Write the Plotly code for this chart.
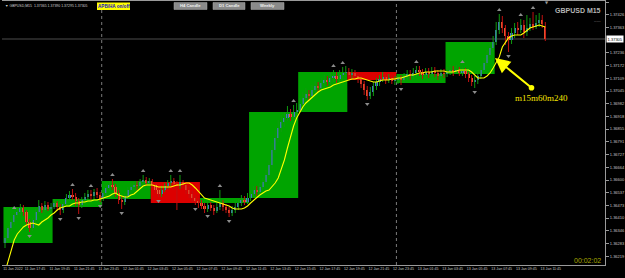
import plotly.graph_objects as go

# ---------------- data (GBPUSD M15, 177 bars) ----------------
open_ = [1.36285, 1.36310, 1.36360, 1.36390, 1.36425, 1.36440, 1.36460, 1.36440, 1.36390, 1.36360,
         1.36400, 1.36440, 1.36470, 1.36450, 1.36475, 1.36455, 1.36465, 1.36485, 1.36465, 1.36450,
         1.36480, 1.36510, 1.36525, 1.36515, 1.36495, 1.36475, 1.36500, 1.36515, 1.36530, 1.36520,
         1.36540, 1.36525, 1.36505, 1.36535, 1.36560, 1.36575, 1.36565, 1.36535, 1.36500, 1.36490,
         1.36520, 1.36550, 1.36565, 1.36575, 1.36570, 1.36590, 1.36600, 1.36585, 1.36595, 1.36575,
         1.36550, 1.36530, 1.36550, 1.36570, 1.36585, 1.36595, 1.36580, 1.36570, 1.36590, 1.36575,
         1.36550, 1.36530, 1.36510, 1.36495, 1.36485, 1.36470, 1.36455, 1.36475, 1.36460, 1.36445,
         1.36465, 1.36485, 1.36465, 1.36450, 1.36435, 1.36450, 1.36465, 1.36485, 1.36500, 1.36490,
         1.36510, 1.36530, 1.36550, 1.36540, 1.36565, 1.36590, 1.36625, 1.36675, 1.36750, 1.36810,
         1.36860, 1.36890, 1.36910, 1.36930, 1.36915, 1.36940, 1.36950, 1.36980, 1.37010, 1.37030,
         1.37020, 1.37050, 1.37070, 1.37060, 1.37085, 1.37100, 1.37090, 1.37110, 1.37120, 1.37105,
         1.37125, 1.37135, 1.37140, 1.37125, 1.37135, 1.37120, 1.37105, 1.37080, 1.37050, 1.37020,
         1.37040, 1.37070, 1.37090, 1.37105, 1.37115, 1.37100, 1.37110, 1.37095, 1.37100, 1.37110,
         1.37100, 1.37115, 1.37130, 1.37120, 1.37135, 1.37150, 1.37140, 1.37125, 1.37140, 1.37130,
         1.37145, 1.37135, 1.37120, 1.37135, 1.37130, 1.37140, 1.37150, 1.37140, 1.37150, 1.37135,
         1.37145, 1.37130, 1.37110, 1.37090, 1.37100, 1.37120, 1.37150, 1.37185, 1.37225, 1.37260,
         1.37290, 1.37350, 1.37390, 1.37360, 1.37320, 1.37300, 1.37335, 1.37360, 1.37350, 1.37375,
         1.37340, 1.37360, 1.37380, 1.37365, 1.37385, 1.37400, 1.37365]

high_ = [1.36320, 1.36370, 1.36405, 1.36440, 1.36465, 1.36480, 1.36475, 1.36450, 1.36405, 1.36410,
         1.36455, 1.36500, 1.36485, 1.36495, 1.36490, 1.36485, 1.36505, 1.36495, 1.36480, 1.36490,
         1.36530, 1.36545, 1.36555, 1.36535, 1.36510, 1.36515, 1.36535, 1.36550, 1.36550, 1.36555,
         1.36560, 1.36540, 1.36550, 1.36575, 1.36595, 1.36605, 1.36580, 1.36550, 1.36520, 1.36535,
         1.36565, 1.36585, 1.36590, 1.36595, 1.36605, 1.36625, 1.36615, 1.36610, 1.36605, 1.36585,
         1.36565, 1.36570, 1.36585, 1.36600, 1.36625, 1.36610, 1.36595, 1.36625, 1.36600, 1.36585,
         1.36570, 1.36545, 1.36525, 1.36510, 1.36500, 1.36485, 1.36495, 1.36490, 1.36475, 1.36485,
         1.36550, 1.36500, 1.36480, 1.36465, 1.36470, 1.36485, 1.36505, 1.36525, 1.36520, 1.36535,
         1.36550, 1.36570, 1.36570, 1.36585, 1.36610, 1.36650, 1.36700, 1.36785, 1.36850, 1.36900,
         1.36925, 1.36940, 1.36970, 1.36955, 1.36975, 1.36985, 1.37010, 1.37040, 1.37060, 1.37050,
         1.37075, 1.37095, 1.37090, 1.37110, 1.37125, 1.37120, 1.37135, 1.37150, 1.37140, 1.37150,
         1.37165, 1.37170, 1.37160, 1.37155, 1.37150, 1.37135, 1.37120, 1.37095, 1.37070, 1.37065,
         1.37090, 1.37110, 1.37125, 1.37140, 1.37130, 1.37130, 1.37125, 1.37120, 1.37130, 1.37125,
         1.37135, 1.37150, 1.37150, 1.37160, 1.37170, 1.37170, 1.37155, 1.37160, 1.37160, 1.37165,
         1.37165, 1.37150, 1.37155, 1.37155, 1.37165, 1.37175, 1.37170, 1.37175, 1.37165, 1.37170,
         1.37160, 1.37140, 1.37125, 1.37120, 1.37140, 1.37170, 1.37210, 1.37250, 1.37290, 1.37320,
         1.37390, 1.37430, 1.37420, 1.37375, 1.37340, 1.37360, 1.37385, 1.37390, 1.37405, 1.37400,
         1.37425, 1.37410, 1.37440, 1.37425, 1.37435, 1.37425, 1.37390]

low_ = [1.36260, 1.36300, 1.36345, 1.36375, 1.36410, 1.36425, 1.36420, 1.36370, 1.36340, 1.36345,
        1.36385, 1.36430, 1.36435, 1.36440, 1.36445, 1.36440, 1.36455, 1.36445, 1.36425, 1.36435,
        1.36470, 1.36495, 1.36500, 1.36470, 1.36430, 1.36460, 1.36485, 1.36505, 1.36500, 1.36505,
        1.36510, 1.36490, 1.36495, 1.36520, 1.36545, 1.36550, 1.36515, 1.36480, 1.36455, 1.36475,
        1.36505, 1.36535, 1.36545, 1.36550, 1.36560, 1.36575, 1.36570, 1.36570, 1.36555, 1.36535,
        1.36515, 1.36515, 1.36540, 1.36555, 1.36570, 1.36550, 1.36450, 1.36555, 1.36560, 1.36530,
        1.36510, 1.36490, 1.36475, 1.36460, 1.36455, 1.36435, 1.36440, 1.36445, 1.36425, 1.36435,
        1.36450, 1.36445, 1.36435, 1.36415, 1.36420, 1.36435, 1.36450, 1.36470, 1.36475, 1.36480,
        1.36495, 1.36515, 1.36520, 1.36530, 1.36550, 1.36580, 1.36615, 1.36660, 1.36735, 1.36790,
        1.36840, 1.36865, 1.36895, 1.36895, 1.36900, 1.36920, 1.36935, 1.36960, 1.36995, 1.37000,
        1.37005, 1.37035, 1.37040, 1.37045, 1.37065, 1.37070, 1.37075, 1.37090, 1.37085, 1.37090,
        1.37105, 1.37115, 1.37110, 1.37105, 1.37100, 1.37085, 1.37060, 1.37025, 1.37000, 1.37005,
        1.37020, 1.37050, 1.37070, 1.37090, 1.37080, 1.37085, 1.37080, 1.37075, 1.37080, 1.37075,
        1.37085, 1.37100, 1.37100, 1.37105, 1.37115, 1.37120, 1.37105, 1.37110, 1.37110, 1.37115,
        1.37115, 1.37100, 1.37105, 1.37110, 1.37115, 1.37125, 1.37120, 1.37130, 1.37120, 1.37120,
        1.37110, 1.37090, 1.37070, 1.37060, 1.37080, 1.37105, 1.37140, 1.37170, 1.37210, 1.37240,
        1.37275, 1.37330, 1.37335, 1.37275, 1.37240, 1.37280, 1.37310, 1.37325, 1.37335, 1.37310,
        1.37320, 1.37345, 1.37350, 1.37355, 1.37365, 1.37360, 1.37295]

close_ = [1.36310, 1.36360, 1.36390, 1.36425, 1.36440, 1.36460, 1.36440, 1.36390, 1.36360, 1.36400,
          1.36440, 1.36470, 1.36450, 1.36475, 1.36455, 1.36465, 1.36485, 1.36465, 1.36450, 1.36480,
          1.36510, 1.36525, 1.36515, 1.36495, 1.36475, 1.36500, 1.36515, 1.36530, 1.36520, 1.36540,
          1.36525, 1.36505, 1.36535, 1.36560, 1.36575, 1.36565, 1.36535, 1.36500, 1.36490, 1.36520,
          1.36550, 1.36565, 1.36575, 1.36570, 1.36590, 1.36600, 1.36585, 1.36595, 1.36575, 1.36550,
          1.36530, 1.36550, 1.36570, 1.36585, 1.36595, 1.36580, 1.36570, 1.36590, 1.36575, 1.36550,
          1.36530, 1.36510, 1.36495, 1.36485, 1.36470, 1.36455, 1.36475, 1.36460, 1.36445, 1.36465,
          1.36485, 1.36465, 1.36450, 1.36435, 1.36450, 1.36465, 1.36485, 1.36500, 1.36490, 1.36510,
          1.36530, 1.36550, 1.36540, 1.36565, 1.36590, 1.36625, 1.36675, 1.36750, 1.36810, 1.36860,
          1.36890, 1.36910, 1.36930, 1.36915, 1.36940, 1.36950, 1.36980, 1.37010, 1.37030, 1.37020,
          1.37050, 1.37070, 1.37060, 1.37085, 1.37100, 1.37090, 1.37110, 1.37120, 1.37105, 1.37125,
          1.37135, 1.37140, 1.37125, 1.37135, 1.37120, 1.37105, 1.37080, 1.37050, 1.37020, 1.37040,
          1.37070, 1.37090, 1.37105, 1.37115, 1.37100, 1.37110, 1.37095, 1.37100, 1.37110, 1.37100,
          1.37115, 1.37130, 1.37120, 1.37135, 1.37150, 1.37140, 1.37125, 1.37140, 1.37130, 1.37145,
          1.37135, 1.37120, 1.37135, 1.37130, 1.37140, 1.37150, 1.37140, 1.37150, 1.37135, 1.37145,
          1.37130, 1.37110, 1.37090, 1.37100, 1.37120, 1.37150, 1.37185, 1.37225, 1.37260, 1.37290,
          1.37350, 1.37390, 1.37360, 1.37320, 1.37300, 1.37335, 1.37360, 1.37350, 1.37375, 1.37340,
          1.37360, 1.37380, 1.37365, 1.37385, 1.37400, 1.37380, 1.37305]

ma_ = [1.36140, 1.36190, 1.36250, 1.36300, 1.36330, 1.36350, 1.36365, 1.36375, 1.36380, 1.36385,
       1.36380, 1.36375, 1.36390, 1.36400, 1.36410, 1.36425, 1.36435, 1.36450, 1.36460, 1.36465,
       1.36470, 1.36470, 1.36480, 1.36485, 1.36485, 1.36490, 1.36490, 1.36495, 1.36495, 1.36500,
       1.36500, 1.36505, 1.36510, 1.36515, 1.36520, 1.36530, 1.36535, 1.36525, 1.36520, 1.36515,
       1.36515, 1.36525, 1.36530, 1.36545, 1.36560, 1.36570, 1.36575, 1.36575, 1.36575, 1.36570,
       1.36565, 1.36565, 1.36565, 1.36565, 1.36565, 1.36570, 1.36575, 1.36575, 1.36580, 1.36585,
       1.36585, 1.36575, 1.36560, 1.36545, 1.36525, 1.36510, 1.36505, 1.36500, 1.36495, 1.36490,
       1.36485, 1.36480, 1.36475, 1.36470, 1.36460, 1.36455, 1.36455, 1.36455, 1.36460, 1.36470,
       1.36485, 1.36500, 1.36510, 1.36525, 1.36535, 1.36545, 1.36550, 1.36565, 1.36585, 1.36610,
       1.36650, 1.36700, 1.36760, 1.36820, 1.36870, 1.36910, 1.36940, 1.36965, 1.36985, 1.37000,
       1.37015, 1.37030, 1.37040, 1.37050, 1.37055, 1.37060, 1.37065, 1.37075, 1.37080, 1.37085,
       1.37090, 1.37095, 1.37100, 1.37105, 1.37105, 1.37110, 1.37110, 1.37105, 1.37100, 1.37095,
       1.37090, 1.37090, 1.37095, 1.37100, 1.37100, 1.37100, 1.37105, 1.37105, 1.37110, 1.37110,
       1.37115, 1.37120, 1.37125, 1.37125, 1.37130, 1.37135, 1.37135, 1.37140, 1.37140, 1.37140,
       1.37145, 1.37145, 1.37145, 1.37145, 1.37140, 1.37140, 1.37140, 1.37145, 1.37150, 1.37150,
       1.37150, 1.37150, 1.37140, 1.37125, 1.37110, 1.37110, 1.37110, 1.37120, 1.37135, 1.37160,
       1.37185, 1.37215, 1.37265, 1.37290, 1.37310, 1.37320, 1.37325, 1.37325, 1.37325, 1.37335,
       1.37350, 1.37360, 1.37365, 1.37370, 1.37375, 1.37370, 1.37365]

# H4 candle boxes (16 M15 bars each)
h4_open = [1.36285, 1.36465, 1.36505, 1.36590, 1.36485, 1.36510, 1.36940, 1.37140, 1.37085, 1.37130]
h4_close = [1.36465, 1.36505, 1.36595, 1.36485, 1.36510, 1.36940, 1.37140, 1.37100, 1.37130, 1.37290]

# fractal marks
frac_up_bar = [3, 22, 28, 35, 45, 54, 57, 70, 94, 107, 110, 134, 149, 161, 168, 172]
frac_up_val = [1.36460, 1.36575, 1.36570, 1.36625, 1.36645, 1.36645, 1.36645, 1.36570, 1.36995,
               1.37170, 1.37185, 1.37190, 1.37190, 1.37450, 1.37425, 1.37460]
frac_dn_bar = [8, 18, 24, 31, 38, 50, 62, 66, 73, 118, 129, 153, 164]
frac_dn_val = [1.36320, 1.36405, 1.36410, 1.36470, 1.36435, 1.36495, 1.36455, 1.36420, 1.36395,
               1.36980, 1.37055, 1.37040, 1.37220]

# time axis labels
time_label_bars = [0, 7, 15, 23, 31, 39, 47, 55, 63, 71, 79, 87, 95, 103, 111, 119, 127, 135,
                   143, 151, 159, 167, 175]
time_labels = ["11 Jan 2022", "11 Jan 17:45", "11 Jan 19:45", "11 Jan 21:45", "11 Jan 23:45",
               "12 Jan 01:45", "12 Jan 03:45", "12 Jan 05:45", "12 Jan 07:45", "12 Jan 09:45",
               "12 Jan 11:45", "12 Jan 13:45", "12 Jan 15:45", "12 Jan 17:45", "12 Jan 19:45",
               "12 Jan 21:45", "12 Jan 23:45", "13 Jan 01:45", "13 Jan 03:45", "13 Jan 05:45",
               "13 Jan 07:45", "13 Jan 09:45", "13 Jan 11:45"]

# price axis labels (the one under the current-price tag is covered by it)
price_ticks = [1.37490, 1.37426, 1.37363, 1.37236, 1.37172, 1.37109, 1.37045, 1.36982,
               1.36918, 1.36855, 1.36791, 1.36727, 1.36664, 1.36600, 1.36537, 1.36473, 1.36410,
               1.36346, 1.36283, 1.36219]
price_tick_labels = ["%.5f" % v for v in price_ticks]

day_separators = [31.5, 127.5]

# ---------------- figure ----------------
PL, PR, PT, PB = 2, 605, 1, 265  # plot area in pixels


def px(x):
    return (x - PL) / (PR - PL)


def py(y):
    return (PB - y) / (PB - PT)


n = len(close_)
idx = list(range(n))
is_up = [c >= o for o, c in zip(open_, close_)]

UP_BODY = "#4874d4"
DN_BODY = "#ea5f34"
UP_WICK = "#0f9a0f"
DN_WICK = "#c01010"
BOX_GREEN = "#00a400"
BOX_RED = "#dc0000"

fig = go.Figure()

for flag, col in ((True, UP_WICK), (False, DN_WICK)):
    xs, ys = [], []
    for i in idx:
        if is_up[i] == flag:
            xs += [i, i, None]
            ys += [low_[i], high_[i], None]
    fig.add_trace(go.Scatter(x=xs, y=ys, mode="lines", line=dict(color=col, width=1),
                             hoverinfo="skip"))

fig.add_trace(go.Bar(
    x=idx,
    y=[abs(c - o) for o, c in zip(open_, close_)],
    base=[min(o, c) for o, c in zip(open_, close_)],
    width=0.7,
    marker=dict(color=[UP_BODY if u else DN_BODY for u in is_up], line=dict(width=0)),
    hoverinfo="skip"))

fig.add_trace(go.Scatter(x=idx, y=ma_, mode="lines", line=dict(color="#ffff00", width=1.1),
                         hoverinfo="skip"))

fig.add_trace(go.Scatter(x=frac_up_bar, y=frac_up_val, mode="markers",
                         marker=dict(symbol="triangle-up", size=4, color="#8c8c8c"),
                         hoverinfo="skip"))
fig.add_trace(go.Scatter(x=frac_dn_bar, y=frac_dn_val, mode="markers",
                         marker=dict(symbol="triangle-down", size=4, color="#8c8c8c"),
                         hoverinfo="skip"))

shapes = []
for k, (o, c) in enumerate(zip(h4_open, h4_close)):
    shapes.append(dict(type="rect", xref="x", yref="y", x0=16 * k - 0.5, x1=16 * k + 15.5,
                       y0=o, y1=c, fillcolor=BOX_GREEN if c >= o else BOX_RED,
                       line=dict(width=0), layer="below"))
for d in day_separators:
    shapes.append(dict(type="line", xref="x", yref="paper", x0=d, x1=d, y0=0, y1=1,
                       line=dict(color="#7a7a7a", width=1, dash="dot"), layer="below"))
shapes.append(dict(type="line", xref="paper", yref="y", x0=0, x1=1, y0=close_[-1], y1=close_[-1],
                   line=dict(color="#4c4c4c", width=1), layer="below"))

# top-bar widgets
shapes.append(dict(type="rect", xref="paper", yref="paper", x0=px(97), x1=px(130),
                   y0=py(10), y1=py(2.5), fillcolor="#ffff00", line=dict(width=0)))
buttons = [("H4 Candle", 174, 207), ("D1 Candle", 213, 245), ("Weekly", 251, 284)]
for _, a, b in buttons:
    shapes.append(dict(type="rect", xref="paper", yref="paper", x0=px(a), x1=px(b),
                       y0=py(9.5), y1=py(2.5), fillcolor="#8a8a8a",
                       line=dict(color="#a8a8a8", width=0.5)))

ann = []
ann.append(dict(xref="paper", yref="paper", x=px(3), y=py(5.5), xanchor="left", yanchor="middle",
                text="\u25bc GBPUSD,M15  1.37365 1.37390 1.37295 1.37305", showarrow=False,
                font=dict(size=3.5, color="#cfcfcf", family="Liberation Sans")))
ann.append(dict(xref="paper", yref="paper", x=px(113.5), y=py(6.3), xanchor="center", yanchor="middle",
                text="<b>APB/HA on/off</b>", showarrow=False,
                font=dict(size=4.6, color="#1010c0", family="Liberation Sans")))
for t, a, b in buttons:
    ann.append(dict(xref="paper", yref="paper", x=px((a + b) / 2), y=py(6), xanchor="center",
                    yanchor="middle", text="<b>%s</b>" % t, showarrow=False,
                    font=dict(size=4.2, color="#f0f0f0", family="Liberation Sans")))
ann.append(dict(xref="paper", yref="paper", x=px(603), y=py(10.5), xanchor="right", yanchor="middle",
                text="<b>GBPUSD M15</b>", showarrow=False,
                font=dict(size=7, color="#b4b4b4", family="Liberation Sans")))
ann.append(dict(xref="paper", yref="paper", x=px(603), y=py(20), xanchor="right", yanchor="middle",
                text="-----", showarrow=False,
                font=dict(size=4, color="#b4b4b4", family="Liberation Sans")))
ann.append(dict(xref="paper", yref="paper", x=px(547), y=py(2.5), xanchor="center", yanchor="middle",
                text="\u25bc", showarrow=False,
                font=dict(size=4, color="#9a9a9a", family="DejaVu Sans")))
ann.append(dict(xref="paper", yref="paper", x=px(603), y=py(260), xanchor="right", yanchor="middle",
                text="00:02:02", showarrow=False,
                font=dict(size=7, color="#a8a800", family="Liberation Sans")))
# current price tag on price axis
ann.append(dict(xref="paper", yref="y", x=px(606), y=close_[-1], xanchor="left", yanchor="middle",
                text="%.5f" % close_[-1], showarrow=False, bgcolor="#ffffff", borderpad=0.6,
                font=dict(size=4, color="#000000", family="Liberation Sans")))
# yellow arrow with label
ann.append(dict(xref="paper", yref="paper", x=px(495), y=py(58), ax=38, ay=31, text="",
                showarrow=True, arrowcolor="#ffff00", arrowwidth=2, arrowhead=2, arrowsize=1.5,
                arrowside="end+start", startarrowhead=6, startarrowsize=0.7, standoff=0))
ann.append(dict(xref="paper", yref="paper", x=px(541), y=py(98), xanchor="center", yanchor="middle",
                text="m15m60m240", showarrow=False,
                font=dict(size=9, color="#f7e600", family="Liberation Serif")))

label_pos = [b + 2.8 for b in time_label_bars]
label_pos[0] = 2.6

fig.update_layout(
    width=625, height=278,
    margin=dict(l=PL, r=625 - PR, t=PT, b=278 - PB),
    paper_bgcolor="#000000", plot_bgcolor="#000000",
    showlegend=False, barmode="overlay", bargap=0,
    shapes=shapes, annotations=ann,
    xaxis=dict(range=[-(5 - PL) / 3.07, -(5 - PL) / 3.07 + (PR - PL) / 3.07],
               showgrid=False, zeroline=False, showline=True, linecolor="#9a9a9a", linewidth=1,
               mirror=True, tickmode="array", tickvals=label_pos, ticktext=time_labels,
               tickangle=0, ticks="", ticklen=0, ticklabeloverflow="allow",
               tickfont=dict(size=3.6, color="#c4c4c4", family="Liberation Sans"),
               automargin=False, fixedrange=True),
    yaxis=dict(range=[1.3750 - PB * 0.00005, 1.3750 - PT * 0.00005], side="right",
               showgrid=False, zeroline=False, showline=True, linecolor="#9a9a9a", linewidth=1,
               tickmode="array", tickvals=price_ticks, ticktext=price_tick_labels,
               ticks="outside", ticklen=3, tickcolor="#9a9a9a", tickwidth=1,
               tickfont=dict(size=4, color="#c4c4c4", family="Liberation Sans"),
               automargin=False, fixedrange=True),
)

fig.write_html("out.html", config={"displayModeBar": False})
